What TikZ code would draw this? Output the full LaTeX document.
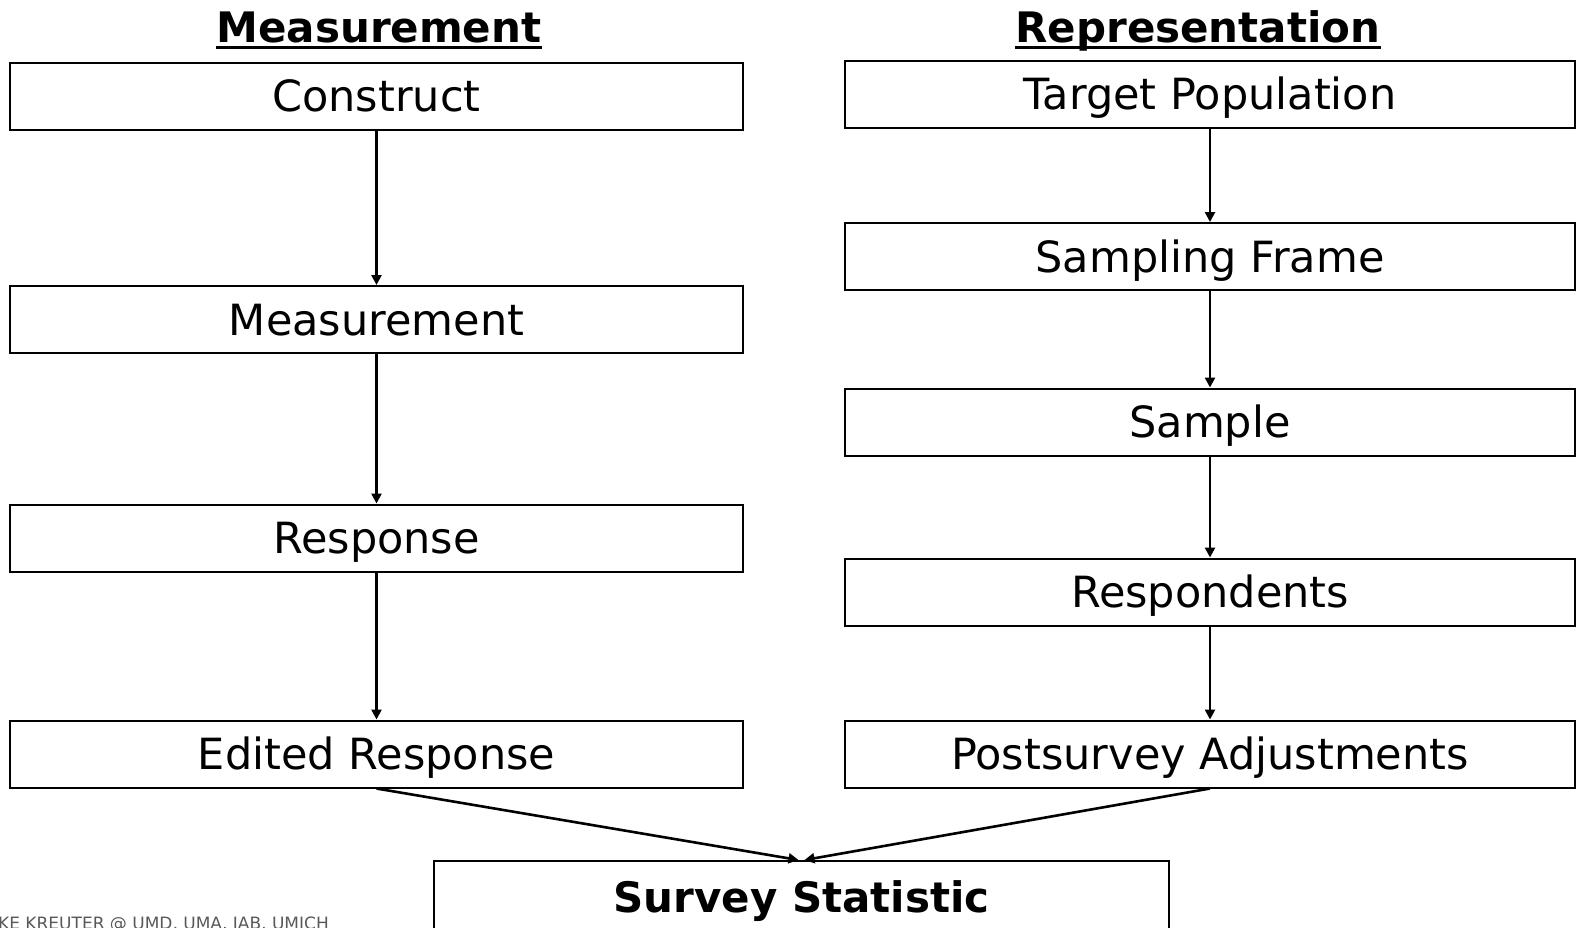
\documentclass[tikz,border=0pt]{standalone}
\usepackage{fontspec}
\setmainfont{DejaVu Sans}
\usetikzlibrary{arrows.meta}
\begin{document}
\begin{tikzpicture}[x=1pt,y=-1pt,
  box/.style={draw=black,line width=2pt,minimum height=67pt,inner sep=0pt,
    font=\fontsize{43}{50}\selectfont,text height=31pt,text depth=0pt},
  lbox/.style={box,minimum width=733pt},
  rbox/.style={box,minimum width=730pt},
  head/.style={font=\fontsize{42}{49}\selectfont\bfseries,inner sep=0pt,text depth=0pt,anchor=base},
  conn/.style={line width=2.6pt,-{Triangle[length=10pt,width=10pt]}}]
\useasboundingbox (0,0) rectangle (1576,927);
\clip (0,0) rectangle (1576,927);
% headers
\node[head] (hm) at (379,42) {Measurement};
\node[head] (hr) at (1198,42) {Representation};
\draw[line width=3pt] ([yshift=-5pt]hm.south west) -- ([yshift=-5pt]hm.south east);
\draw[line width=3pt] ([yshift=-5pt]hr.south west) -- ([yshift=-5pt]hr.south east);
% left column
\node[lbox] (construct) at (376.5,96) {Construct};
\node[lbox] (meas) at (376.5,319.5) {Measurement};
\node[lbox] (resp) at (376.5,538) {Response};
\node[lbox] (edit) at (376.5,754) {Edited Response};
% right column
\node[rbox] (target) at (1210,94) {Target Population};
\node[rbox] (frame) at (1210,256.5) {Sampling Frame};
\node[rbox] (sample) at (1210,422) {Sample};
\node[rbox] (respd) at (1210,592) {Respondents};
\node[rbox] (post) at (1210,754) {Postsurvey Adjustments};
% bottom
\node[box,minimum width=735pt,minimum height=72pt,font=\fontsize{42}{49}\selectfont\bfseries] (stat) at (801.5,897) {Survey Statistic};
% connectors
\draw[conn] (construct) -- (meas);
\draw[conn] (meas) -- (resp);
\draw[conn] (resp) -- (edit);
\draw[conn] (target) -- (frame);
\draw[conn] (frame) -- (sample);
\draw[conn] (sample) -- (respd);
\draw[conn] (respd) -- (post);
\draw[conn] (edit.south) -- ([xshift=-3pt]stat.north);
\draw[conn] (post.south) -- ([xshift=3pt]stat.north);
% footer
\node[anchor=base east,inner sep=0pt,text=black!65,font=\fontsize{17}{19}\selectfont] (foot) at (329,929) {FRAUKE KREUTER @ UMD, UMA, IAB, UMICH};
\end{tikzpicture}
\end{document}
